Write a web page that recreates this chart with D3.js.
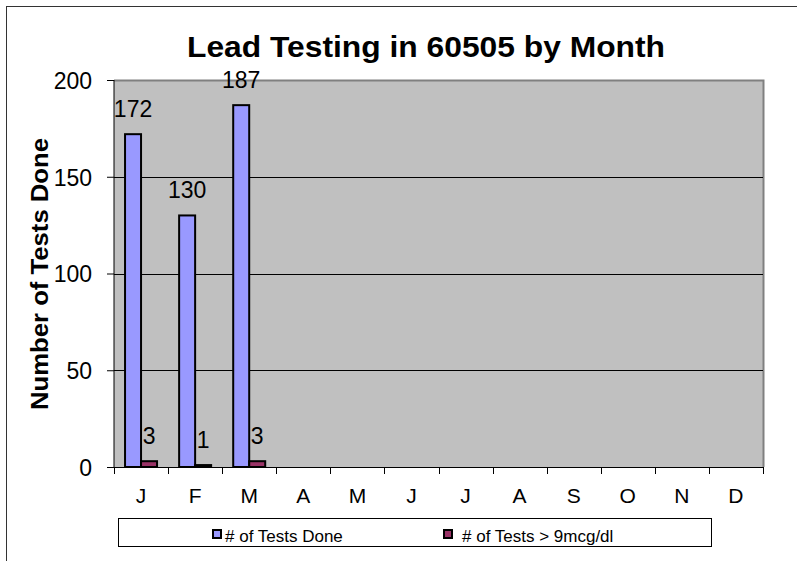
<!DOCTYPE html>
<html>
<head>
<meta charset="utf-8">
<script src="https://cdn.jsdelivr.net/npm/d3@7"></script>
<style>
  body { margin: 0; background: #fff; }
  svg text { font-family: "Liberation Sans", Arial, sans-serif; }
</style>
</head>
<body>
<div id="chart"></div>
<script>
// data
var months = ["J", "F", "M", "A", "M", "J", "J", "A", "S", "O", "N", "D"];
var testsDone = [172, 130, 187, null, null, null, null, null, null, null, null, null];
var testsHigh = [3, 1, 3, null, null, null, null, null, null, null, null, null];
var seriesNames = ["# of Tests Done", "# of Tests > 9mcg/dl"];
var seriesColors = ["#9999ff", "#993366"];
var yTicks = [0, 50, 100, 150, 200];

var width = 797,
    height = 561;

var svg = d3.select("#chart")
    .append("svg")
    .attr("width", width)
    .attr("height", height);

// outer chart frame
svg.append("rect")
    .attr("x", 6.5).attr("y", 6.5)
    .attr("width", 900).attr("height", 700)
    .attr("fill", "none")
    .attr("stroke", "#333")
    .attr("stroke-width", 1);

var plot = {left: 114, top: 80, right: 763, bottom: 467};

var x = d3.scaleBand()
    .domain(d3.range(months.length))
    .range([plot.left, plot.right]);

var y = d3.scaleLinear()
    .domain([0, 200])
    .range([plot.bottom, plot.top]);

// plot area
svg.append("rect")
    .attr("x", plot.left).attr("y", plot.top)
    .attr("width", plot.right - plot.left)
    .attr("height", plot.bottom - plot.top)
    .attr("fill", "#c0c0c0");

svg.append("path")
    .attr("d", "M" + plot.left + "," + (plot.top + 0.5) + "H" + (plot.right + 0.5) + "V" + plot.bottom)
    .attr("fill", "none")
    .attr("stroke", "#808080")
    .attr("stroke-width", 2);

// gridlines
svg.append("g")
    .selectAll("line")
    .data(yTicks.filter(function (d) { return d > 0 && d < 200; }))
    .enter()
    .append("line")
    .attr("x1", plot.left).attr("x2", plot.right)
    .attr("y1", function (d) { return Math.round(y(d)) + 0.5; })
    .attr("y2", function (d) { return Math.round(y(d)) + 0.5; })
    .attr("stroke", "#000");

// bars
var sub = d3.scaleBand()
    .domain([0, 1])
    .range([0, 32]);
var offset = (x.bandwidth() - 32) / 2;

var seriesData = [testsDone, testsHigh];
seriesData.forEach(function (vals, s) {
    var g = svg.append("g");
    var pts = vals.map(function (v, i) { return {i: i, v: v}; })
        .filter(function (d) { return d.v != null; });
    g.selectAll("rect")
        .data(pts)
        .enter()
        .append("rect")
        .attr("x", function (d) { return x(d.i) + offset + sub(s); })
        .attr("y", function (d) { return y(d.v); })
        .attr("width", sub.bandwidth())
        .attr("height", function (d) { return y(0) - y(d.v); })
        .attr("fill", seriesColors[s])
        .attr("stroke", "#000")
        .attr("stroke-width", 2);
    g.selectAll("text")
        .data(pts)
        .enter()
        .append("text")
        .attr("x", function (d) { return x(d.i) + offset + sub(s) + sub.bandwidth() / 2; })
        .attr("y", function (d) { return y(d.v) - 17; })
        .attr("text-anchor", "middle")
        .attr("font-size", 23)
        .text(function (d) { return d.v; });
});

// y axis
var yAxis = d3.axisLeft(y)
    .tickValues(yTicks)
    .tickSize(7)
    .tickPadding(15);
var ya = svg.append("g")
    .attr("transform", "translate(" + plot.left + ",0)")
    .call(yAxis);
ya.attr("font-family", null);
ya.selectAll("text").attr("font-size", 23).attr("fill", "#000").attr("dy", "0.36em");
ya.selectAll("line,path").attr("stroke", "#000");
ya.select(".domain").attr("d", "M0," + plot.top + "V" + plot.bottom);

// x axis
var xa = svg.append("g")
    .attr("transform", "translate(0," + plot.bottom + ")");
xa.append("line")
    .attr("x1", plot.left - 7).attr("x2", plot.right)
    .attr("y1", 0.5).attr("y2", 0.5)
    .attr("stroke", "#000");
xa.selectAll("line.tick")
    .data(d3.range(months.length + 1))
    .enter()
    .append("line")
    .attr("class", "tick")
    .attr("x1", function (i) { return Math.round(plot.left + i * x.step()) + 0.5; })
    .attr("x2", function (i) { return Math.round(plot.left + i * x.step()) + 0.5; })
    .attr("y1", 0).attr("y2", 7)
    .attr("stroke", "#000");
xa.selectAll("text")
    .data(months)
    .enter()
    .append("text")
    .attr("x", function (d, i) { return x(i) + x.bandwidth() / 2; })
    .attr("y", 36)
    .attr("text-anchor", "middle")
    .attr("font-size", 21)
    .text(function (d) { return d; });

// title
svg.append("text")
    .attr("x", 426)
    .attr("y", 57)
    .attr("text-anchor", "middle")
    .attr("font-size", 29)
    .attr("font-weight", "bold")
    .attr("textLength", 478)
    .attr("lengthAdjust", "spacingAndGlyphs")
    .text("Lead Testing in 60505 by Month");

// y title
svg.append("text")
    .attr("transform", "translate(48,274) rotate(-90)")
    .attr("text-anchor", "middle")
    .attr("font-size", 23)
    .attr("font-weight", "bold")
    .attr("textLength", 272)
    .attr("lengthAdjust", "spacingAndGlyphs")
    .text("Number of Tests Done");

// legend
var legend = svg.append("g");
legend.append("rect")
    .attr("x", 118.5).attr("y", 518.5)
    .attr("width", 593).attr("height", 28)
    .attr("fill", "#fff")
    .attr("stroke", "#000");
var legX = [212, 443];
seriesNames.forEach(function (name, s) {
    legend.append("rect")
        .attr("x", legX[s] + 1).attr("y", 530)
        .attr("width", 8).attr("height", 8)
        .attr("fill", seriesColors[s])
        .attr("stroke", "#000")
        .attr("stroke-width", 2);
    legend.append("text")
        .attr("x", legX[s] + (s === 0 ? 13 : 19))
        .attr("y", 542)
        .attr("font-size", 17)
        .text(name);
});
</script>
</body>
</html>
